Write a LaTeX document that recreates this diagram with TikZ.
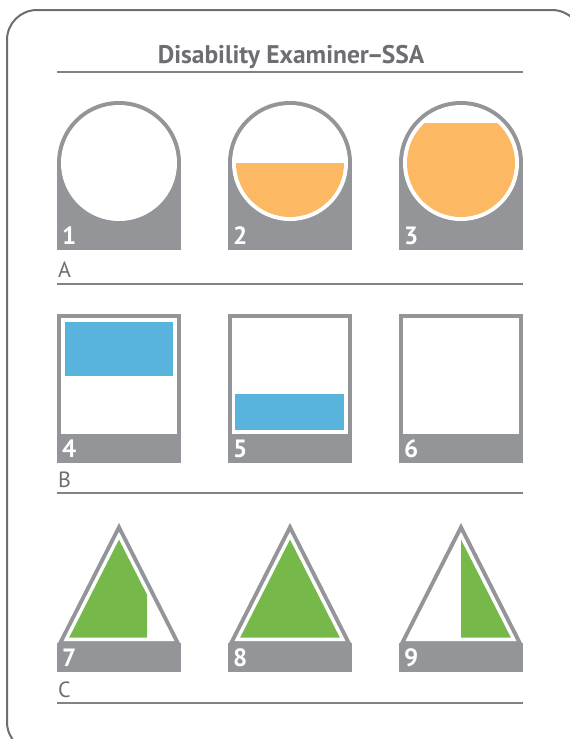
\documentclass[tikz,border=0pt]{standalone}
\usepackage{fontspec}
\setmainfont{PT Sans}
\definecolor{framec}{HTML}{6D6E71}
\definecolor{barc}{HTML}{939598}
\definecolor{rulec}{HTML}{808285}
\definecolor{orngc}{HTML}{FDB863}
\definecolor{bluc}{HTML}{58B4DC}
\definecolor{grnc}{HTML}{76B84A}
\tikzset{
  numlabel/.style={text=white, font=\fontsize{25}{29}\selectfont\bfseries, anchor=base west, inner sep=0pt},
  rowlabel/.style={text=framec, font=\fontsize{22}{26}\selectfont, anchor=base west, inner sep=0pt},
  rowrule/.style={draw=rulec, line width=1.5pt},
  barfill/.style={fill=barc},
}
\begin{document}
\begin{tikzpicture}[x=1pt,y=-1pt]
\useasboundingbox (0,0) rectangle (570,739);
\clip (0,0) rectangle (570,739);
\fill[white] (0,0) rectangle (570,739);
\draw[framec, line width=2pt, rounded corners=30pt] (7,10) rectangle (582,752);
% title
\node[text=framec, font=\fontsize{25.5}{30}\selectfont\bfseries, anchor=base, inner sep=0pt] (title) at (291,63) {Disability Examiner\kern-2pt–\kern-2pt SSA};
\draw[rowrule] (57,72) -- (523,72);
% Row A
\foreach \cx in {119,290,461}{
  \fill[barfill] (\cx,163) circle[radius=62];
  \fill[barfill] (\cx-62,163) rectangle (\cx+62,250);
  \fill[white] (\cx,163) circle[radius=58];
}
\begin{scope}
  \clip (290-60,163) rectangle (290+60,230);
  \fill[orngc] (290,163) circle[radius=54];
\end{scope}
\begin{scope}
  \clip (461-60,123) rectangle (461+60,230);
  \fill[orngc] (461,163) circle[radius=54];
\end{scope}
\node[numlabel] (n1) at (62,244) {1};
\node[numlabel] (n2) at (233,244) {2};
\node[numlabel] (n3) at (404,244) {3};
\node[rowlabel] (la) at (58,277) {A};
\draw[rowrule] (57,284) -- (523,284);
% Row B
\foreach \cx in {119,290,461}{
  \fill[barfill] (\cx-62,314) rectangle (\cx+62,463);
  \fill[white] (\cx-58,318) rectangle (\cx+58,434);
}
\fill[bluc] (119-54,322) rectangle (119+54,376);
\fill[bluc] (290-55,394) rectangle (290+54,430);
\node[numlabel] (n4) at (62,457) {4};
\node[numlabel] (n5) at (233,457) {5};
\node[numlabel] (n6) at (404,457) {6};
\node[rowlabel] (lb) at (58,487) {B};
\draw[rowrule] (57,493) -- (523,493);
% Row C
\foreach \cx in {119,290,461}{
  \fill[barfill] (\cx,523) -- (\cx+62,645) -- (\cx-62,645) -- cycle;
  \fill[barfill] (\cx-62,643) rectangle (\cx+62,672);
  \fill[white] (\cx,531.8) -- (\cx+55.5,641) -- (\cx-55.5,641) -- cycle;
}
\fill[grnc] (119,539.6) -- (147,594.6) -- (147,637.5) -- (119-49.8,637.5) -- cycle;
\fill[grnc] (290,539.6) -- (290+49.8,637.5) -- (290-49.8,637.5) -- cycle;
\fill[grnc] (461,539.6) -- (461+49.8,637.5) -- (461,637.5) -- cycle;
\node[numlabel] (n7) at (62,666) {7};
\node[numlabel] (n8) at (233,666) {8};
\node[numlabel] (n9) at (404,666) {9};
\node[rowlabel] (lc) at (58,697) {C};
\draw[rowrule] (57,703) -- (523,703);
\end{tikzpicture}
\end{document}
